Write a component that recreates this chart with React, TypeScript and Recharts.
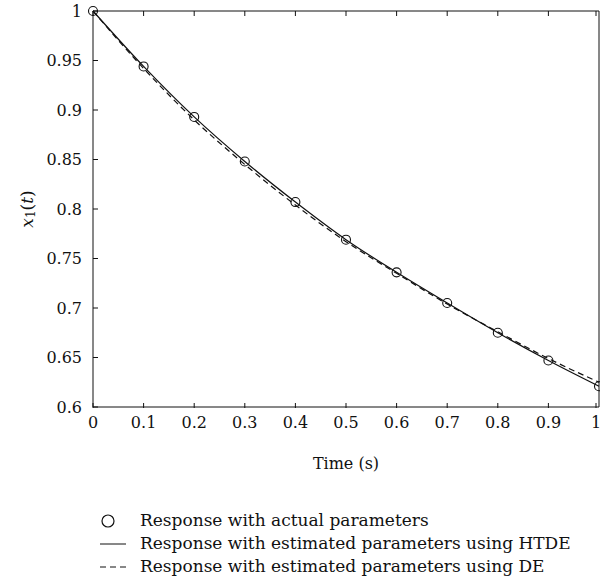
import React from "react"
import { LineChart, Line, XAxis, YAxis } from "recharts"

const times = [0, 0.1, 0.2, 0.3, 0.4, 0.5, 0.6, 0.7, 0.8, 0.9, 1]
const actual = [1, 0.944, 0.893, 0.848, 0.807, 0.769, 0.736, 0.705, 0.675, 0.647, 0.621]
const htde = [1, 0.944, 0.893, 0.848, 0.807, 0.769, 0.736, 0.705, 0.675, 0.647, 0.621]
const de = [1, 0.942, 0.89, 0.845, 0.804, 0.767, 0.735, 0.704, 0.676, 0.649, 0.625]
const xTicks = [0, 0.1, 0.2, 0.3, 0.4, 0.5, 0.6, 0.7, 0.8, 0.9, 1]
const yTicks = [0.6, 0.65, 0.7, 0.75, 0.8, 0.85, 0.9, 0.95, 1]

const legendItems = [
  "Response with actual parameters",
  "Response with estimated parameters using HTDE",
  "Response with estimated parameters using DE",
]

const data = times.map((t, i) => ({ t, actual: actual[i], htde: htde[i], de: de[i] }))

const FONT = "'DejaVu Serif', serif"
const TICK = 5

const LeftTick = (p: any) => (
  <g>
    <text x={p.x} y={p.y} textAnchor="end" dominantBaseline="central" fontSize={16} fontFamily={FONT} fill="#111">
      {p.payload.value}
    </text>
    <line x1={p.x + 11} x2={p.x + 11 + TICK} y1={p.y} y2={p.y} stroke="#111" />
  </g>
)

const BottomTick = (p: any) => (
  <g>
    <text x={p.x} y={p.y} textAnchor="middle" dominantBaseline="hanging" fontSize={16} fontFamily={FONT} fill="#111">
      {p.payload.value}
    </text>
    <line x1={p.x} x2={p.x} y1={p.y - 8} y2={p.y - 8 - TICK} stroke="#111" />
  </g>
)

const RightTick = (p: any) => (
  <line x1={p.x} x2={p.x - TICK} y1={p.y} y2={p.y} stroke="#111" />
)

const TopTick = (p: any) => (
  <line x1={p.x} x2={p.x} y1={p.y} y2={p.y + TICK} stroke="#111" />
)

const YLabel = (props: any) => {
  const vb = props.viewBox
  const cx = vb.x - 16
  const cy = vb.y + vb.height / 2
  return (
    <text x={cx} y={cy} transform={`rotate(-90, ${cx}, ${cy})`} textAnchor="middle" dominantBaseline="central" fontSize={17} fontFamily={FONT} fill="#111">
      <tspan fontStyle="italic">x</tspan>
      <tspan fontSize={12} dy={4}>1</tspan>
      <tspan dy={-4}>(</tspan>
      <tspan fontStyle="italic">t</tspan>
      <tspan>)</tspan>
    </text>
  )
}

const Dot = (p: any) => (
  <circle cx={p.cx} cy={p.cy} r={4.5} fill="none" stroke="#111" strokeWidth={1.1} />
)

export default function App() {
  return (
    <div style={{ position: "absolute", left: 0, top: 0, width: 600, height: 584, background: "#fff" }}>
      <LineChart width={600} height={584} data={data} margin={{ top: 10, right: 0, bottom: 115, left: 43 }}>
        <XAxis
          dataKey="t"
          type="number"
          domain={[0, 1]}
          ticks={xTicks}
          tickSize={0}
          tickMargin={9}
          tickLine={false}
          tick={<BottomTick />}
          axisLine={{ stroke: "#111" }}
          height={62}
          label={{ value: "Time (s)", position: "insideBottom", offset: 0, fontSize: 16, fontFamily: FONT, fill: "#111" }}
        />
        <XAxis
          xAxisId="top"
          orientation="top"
          dataKey="t"
          type="number"
          domain={[0, 1]}
          ticks={xTicks}
          tickSize={0}
          tickMargin={0}
          tickLine={false}
          tick={<TopTick />}
          axisLine={{ stroke: "#111" }}
          height={1}
        />
        <YAxis
          type="number"
          domain={[0.6, 1]}
          ticks={yTicks}
          tickSize={0}
          tickMargin={11}
          tickLine={false}
          tick={<LeftTick />}
          axisLine={{ stroke: "#111" }}
          width={50}
          label={<YLabel />}
        />
        <YAxis
          yAxisId="right"
          orientation="right"
          type="number"
          domain={[0.6, 1]}
          ticks={yTicks}
          tickSize={0}
          tickMargin={0}
          tickLine={false}
          tick={<RightTick />}
          axisLine={{ stroke: "#111" }}
          width={1}
        />
        <Line dataKey="de" type="monotone" stroke="#111" strokeWidth={1.2} strokeDasharray="6 4" dot={false} isAnimationActive={false} />
        <Line dataKey="htde" type="monotone" stroke="#111" strokeWidth={1.2} dot={false} isAnimationActive={false} />
        <Line dataKey="actual" stroke="none" dot={<Dot />} activeDot={false} isAnimationActive={false} />
      </LineChart>
      <div style={{ position: "absolute", left: 98, top: 509, fontFamily: FONT, fontSize: 17, color: "#111" }}>
        {legendItems.map((label, i) => (
          <div key={label} style={{ display: "flex", alignItems: "center", height: 23 }}>
            <svg width={42} height={23}>
              {i === 0 && <circle cx={10} cy={12} r={6} fill="none" stroke="#111" strokeWidth={1.2} />}
              {i === 1 && <line x1={2} x2={28} y1={12} y2={12} stroke="#111" strokeWidth={1} />}
              {i === 2 && <line x1={2} x2={28} y1={12} y2={12} stroke="#111" strokeWidth={1} strokeDasharray="6 4" />}
            </svg>
            <span style={{ lineHeight: "23px", whiteSpace: "nowrap" }}>{label}</span>
          </div>
        ))}
      </div>
    </div>
  )
}
